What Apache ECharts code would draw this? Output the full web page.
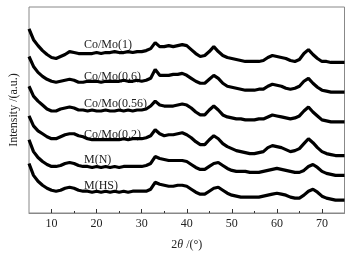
<!DOCTYPE html>
<html>
<head>
<meta charset="utf-8">
<script src="https://cdn.jsdelivr.net/npm/echarts@6/dist/echarts.min.js"></script>
<style>
  html, body { margin: 0; padding: 0; background: #fff; }
  #chart { width: 354px; height: 256px; }
</style>
</head>
<body>
<div id="chart"></div>
<script>
// 2θ in degrees, one reading per degree
const twoTheta = []
for (let t = 5; t <= 75; t++) twoTheta.push(t)

// intensity readings (arbitrary units, already stacked with offsets as in the figure)
const coMo1 = [186,175,169,164,160,157,156,158,160,163,162,161,161,161,161,162,161,162,162,163,162,162,163,162,163,163,164,166,172,168,168,169,168,169,170,169,165,161,158,159,163,168,163,159,157,156,155,154,153,153,153,153,154,157,159,158,157,156,154,153,155,161,165,160,156,153,153,152,152,152,152]
const coMo06 = [158,148,142,138,135,133,132,133,134,135,134,132,132,133,133,133,132,133,133,133,133,134,133,133,134,133,134,136,145,139,139,139,140,140,141,139,136,133,131,131,135,139,136,131,128,127,126,125,124,124,124,125,125,128,130,129,128,126,125,126,128,133,136,131,127,124,123,122,122,122,122]
const coMo056 = [128,118,113,109,105,103,103,105,106,107,106,104,104,103,104,103,103,104,103,103,104,103,104,103,104,104,105,108,113,109,108,108,108,109,110,109,106,102,99,99,104,108,104,99,97,96,95,95,94,94,94,95,95,97,99,98,97,96,95,96,98,103,107,102,98,94,93,92,92,92,92]
const coMo02 = [98,88,83,80,77,75,75,77,79,80,80,78,77,75,74,74,74,74,74,74,74,75,74,75,75,75,76,78,84,80,78,79,79,80,81,79,76,72,69,69,74,78,75,70,67,65,63,62,61,60,60,61,62,66,68,67,66,64,62,63,65,70,75,71,66,62,60,59,58,58,58]
const mN = [74,62,56,52,49,47,47,48,50,51,50,48,47,47,46,47,46,47,46,47,46,47,47,47,47,47,48,50,57,55,54,53,53,53,53,52,49,46,44,44,47,50,51,48,45,43,42,42,42,41,41,41,42,43,44,45,44,43,42,41,41,43,47,49,46,42,40,39,38,38,38]
const mHS = [50,38,32,28,25,23,22,23,25,26,25,23,22,22,21,22,21,22,21,22,21,22,21,22,22,22,22,24,31,29,28,27,27,28,28,27,24,21,19,19,22,25,26,23,20,18,17,16,16,16,16,16,17,18,19,20,19,18,16,15,15,18,22,24,21,17,15,14,13,13,13]

const seriesNames = ['Co/Mo(1)', 'Co/Mo(0.6)', 'Co/Mo(0.56)', 'Co/Mo(0.2)', 'M(N)', 'M(HS)']
const seriesValues = [coMo1, coMo06, coMo056, coMo02, mN, mHS]

const xMajorTicks = [10, 20, 30, 40, 50, 60, 70]
const xMinorTicks = [15, 25, 35, 45, 55, 65]

const font = 'Liberation Serif'
const labelTops = [39, 71, 98, 129, 154, 180]

const chart = echarts.init(document.getElementById('chart'), null, { renderer: 'canvas' })

chart.setOption({
  animation: false,
  grid: { left: 28, right: 9.5, top: 7, bottom: 41, show: true, borderColor: '#888', borderWidth: 1 },
  xAxis: [{
    type: 'value', min: 5, max: 75, position: 'bottom',
    name: '{a|2}{b|θ}{a| /(°)}',
    nameLocation: 'middle', nameGap: 26,
    nameTextStyle: {
      rich: {
        a: { fontFamily: font, fontSize: 12, color: '#222' },
        b: { fontFamily: font, fontSize: 12, color: '#222', fontStyle: 'italic' }
      }
    },
    axisLine: { show: true, lineStyle: { color: '#888', width: 1 } },
    axisTick: { show: true, inside: true, length: 4, customValues: xMajorTicks, lineStyle: { color: '#333' } },
    axisLabel: { customValues: xMajorTicks, fontFamily: font, fontSize: 12, color: '#222', margin: 5 },
    splitLine: { show: false }
  }, {
    type: 'value', min: 5, max: 75, position: 'bottom', gridIndex: 0,
    axisLine: { show: false },
    axisTick: { show: true, inside: true, length: 2, customValues: xMinorTicks, lineStyle: { color: '#333' } },
    axisLabel: { show: false },
    splitLine: { show: false }
  }],
  yAxis: {
    type: 'value', min: 0, max: 208,
    name: 'Intensity /(a.u.)',
    nameLocation: 'middle', nameGap: 9,
    nameTextStyle: { fontFamily: font, fontSize: 12, color: '#222' },
    axisLine: { show: false },
    axisTick: { show: false },
    axisLabel: { show: false },
    splitLine: { show: false }
  },
  graphic: seriesNames.map((n, i) => ({
    type: 'text', left: 84, top: labelTops[i],
    style: { text: n, font: '12px "Liberation Serif"', fill: '#222' }
  })),
  series: seriesValues.map((vals, i) => ({
    name: seriesNames[i],
    type: 'line',
    xAxisIndex: 0,
    data: twoTheta.map((t, k) => [t, vals[k]]),
    showSymbol: false,
    lineStyle: { color: '#000', width: 3.2 }
  }))
})
</script>
</body>
</html>
